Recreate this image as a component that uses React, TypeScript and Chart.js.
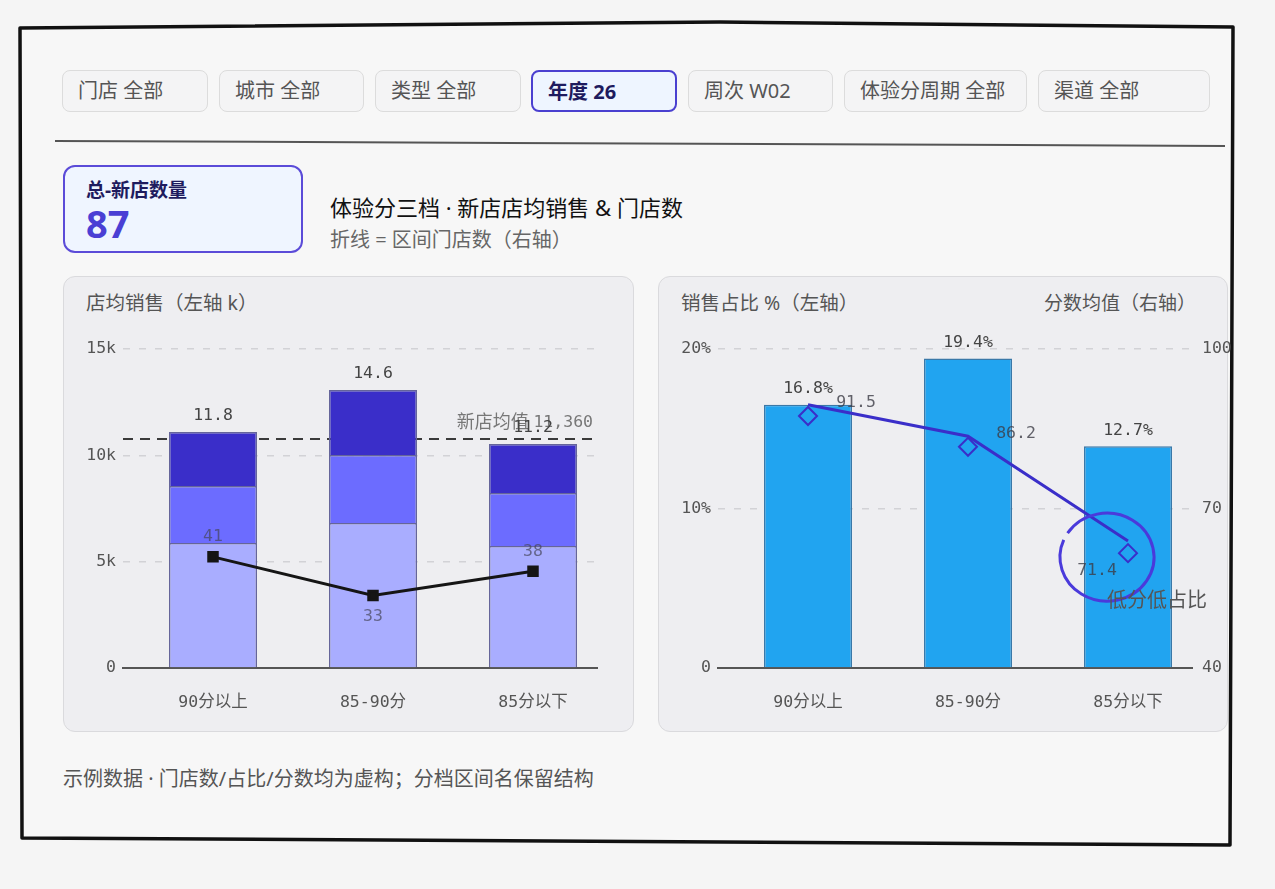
import React, { useEffect, useRef } from "react";
import { Chart, registerables } from "chart.js";

Chart.register(...registerables);

const filters = ["门店 全部", "城市 全部", "类型 全部", "年度 26", "周次 W02", "体验分周期 全部", "渠道 全部"];
const activeFilter = "年度 26";

const categories = ["90分以上", "85-90分", "85分以下"];
// stacked sales per store (three layers), in yuan
const salesBase = [5880, 6820, 5740];
const salesMid = [2680, 3190, 2490];
const salesTop = [2540, 3060, 2300];
const salesTotalLabels = ["11.8", "14.6", "11.2"];
const storeCounts = [41, 33, 38];
const avgSales = 10770;
const avgSalesName = "新店均值";
const avgSalesText = "11,360";

const salesShare = [16.5, 19.4, 13.9];
const salesShareLabels = ["16.8%", "19.4%", "12.7%"];
const scoreLine = [89.5, 83.6, 63.9];
const scoreMarks = [87.4, 81.6, 61.6];
const scoreLabels = ["91.5", "86.2", "71.4"];
const lowNote = "低分低占比";

const totalNewStores = 87;

const UI_FONT = '"Noto Sans", "Noto Sans CJK SC", sans-serif';
const MONO_FONT = '"DejaVu Sans Mono", "Noto Sans CJK SC", monospace';
const TICK_SIZE = 16.5;

const xy = (arr: number[]) => arr.map((v, i) => ({ x: i, y: v }));

// category positions on a linear index axis so bars sit like the original
const indexAxis = (afterFitHeight: number) => ({
  type: "linear" as const,
  min: -0.5625,
  max: 2.4,
  offset: false,
  stacked: true,
  grid: { display: false, drawTicks: false },
  border: { display: true, color: "#555", width: 2 },
  afterBuildTicks: (scale: any) => {
    scale.ticks = categories.map((_, i) => ({ value: i }));
  },
  afterFit: (scale: any) => {
    scale.height = afterFitHeight;
  },
  ticks: {
    padding: 25,
    color: "#555",
    font: { family: MONO_FONT, size: TICK_SIZE },
    callback: (v: any) => categories[v] ?? "",
  },
});

function SalesChart() {
  const ref = useRef<HTMLCanvasElement>(null);

  useEffect(() => {
    if (!ref.current) return;
    const ctx = ref.current.getContext("2d");
    if (!ctx) return;

    const labelsPlugin = {
      id: "salesLabels",
      beforeDatasetsDraw(chart: any) {
        const { ctx, chartArea } = chart;
        const y = chart.scales.y.getPixelForValue(avgSales);
        ctx.save();
        ctx.strokeStyle = "#3a3a3a";
        ctx.lineWidth = 2;
        ctx.setLineDash([10, 7]);
        ctx.beginPath();
        ctx.moveTo(chartArea.left, y);
        ctx.lineTo(chartArea.right, y);
        ctx.stroke();
        ctx.setLineDash([]);
        ctx.fillStyle = "#777";
        ctx.textAlign = "right";
        ctx.textBaseline = "middle";
        ctx.font = `${TICK_SIZE}px ${MONO_FONT}`;
        const right = chartArea.right - 4;
        ctx.fillText(avgSalesText, right, y - 16);
        const w = ctx.measureText(avgSalesText).width;
        ctx.font = `18px ${UI_FONT}`;
        ctx.fillText(avgSalesName + " ", right - w, y - 16);
        ctx.restore();
      },
      afterDatasetsDraw(chart: any) {
        const { ctx } = chart;
        ctx.save();
        ctx.font = `${TICK_SIZE}px ${MONO_FONT}`;
        ctx.textAlign = "center";
        ctx.textBaseline = "middle";
        const topMeta = chart.getDatasetMeta(3);
        topMeta.data.forEach((bar: any, i: number) => {
          ctx.fillStyle = "#444";
          ctx.fillText(salesTotalLabels[i], bar.x, bar.y - 16);
        });
        const lineMeta = chart.getDatasetMeta(0);
        const minCount = Math.min(...storeCounts);
        lineMeta.data.forEach((pt: any, i: number) => {
          const below = storeCounts[i] === minCount;
          ctx.fillStyle = "rgba(70,70,90,0.7)";
          ctx.fillText(String(storeCounts[i]), pt.x, below ? pt.y + 21 : pt.y - 20);
        });
        ctx.restore();
      },
    };

    const barStyle = { borderColor: "#65659a", borderWidth: 1.5, categoryPercentage: 1, barPercentage: 0.55, order: 1, yAxisID: "y" };

    const chart = new Chart(ctx, {
      type: "bar",
      data: {
        datasets: [
          {
            type: "line",
            label: "门店数",
            data: xy(storeCounts),
            yAxisID: "y1",
            borderColor: "#151515",
            borderWidth: 3,
            pointStyle: "rect",
            pointRadius: 6,
            pointBackgroundColor: "#151515",
            pointBorderColor: "#151515",
            order: 0,
          } as any,
          { label: "底层", data: xy(salesBase), backgroundColor: "#a9adff", ...barStyle },
          { label: "中层", data: xy(salesMid), backgroundColor: "#6c6cff", ...barStyle },
          { label: "顶层", data: xy(salesTop), backgroundColor: "#3a2ec9", ...barStyle },
        ],
      },
      options: {
        animation: false,
        responsive: false,
        maintainAspectRatio: false,
        layout: { padding: { top: 29, right: 37, left: 0, bottom: 0 } },
        plugins: { legend: { display: false }, tooltip: { enabled: false } },
        scales: {
          x: indexAxis(52),
          y: {
            stacked: true,
            min: 0,
            max: 15000,
            afterFit: (scale: any) => {
              scale.width = 60;
            },
            border: { display: false, dash: [7, 9] },
            grid: { color: "#d2d2d6", lineWidth: 1.5, drawTicks: false },
            ticks: {
              stepSize: 5000,
              padding: 7,
              color: "#555",
              font: { family: MONO_FONT, size: TICK_SIZE },
              callback: (v: any) => (v === 0 ? "0" : `${v / 1000}k`),
            },
          },
          y1: { display: false, min: 18, max: 84, position: "right" },
        },
      },
      plugins: [labelsPlugin],
    });

    return () => {
      chart.destroy();
    };
  }, []);

  return <canvas ref={ref} width={571} height={400} style={{ position: "absolute", left: 63, top: 320, width: 571, height: 400 }} />;
}

function ShareChart() {
  const ref = useRef<HTMLCanvasElement>(null);

  useEffect(() => {
    if (!ref.current) return;
    const ctx = ref.current.getContext("2d");
    if (!ctx) return;

    const notePlugin = {
      id: "shareLabels",
      afterDatasetsDraw(chart: any) {
        const { ctx, chartArea } = chart;
        ctx.save();
        ctx.font = `${TICK_SIZE}px ${MONO_FONT}`;
        ctx.textAlign = "center";
        ctx.textBaseline = "middle";
        ctx.fillStyle = "#444";
        chart.getDatasetMeta(2).data.forEach((bar: any, i: number) => {
          ctx.fillText(salesShareLabels[i], bar.x, bar.y - 16);
        });
        ctx.fillStyle = "rgba(60,60,70,0.8)";
        chart.getDatasetMeta(0).data.forEach((pt: any, i: number) => {
          let x = pt.x + 48;
          let y = pt.y - 2;
          if (x + 20 > chartArea.right) {
            x = pt.x - 31;
            y = pt.y + 30;
          }
          ctx.fillText(scoreLabels[i], x, y);
        });
        // highlight around the lowest tier
        const marks = chart.getDatasetMeta(1).data;
        const last = marks[marks.length - 1];
        const cx = last.x - 21;
        const cy = last.y + 4;
        ctx.strokeStyle = "#4a3adb";
        ctx.lineWidth = 3;
        ctx.beginPath();
        ctx.ellipse(cx, cy, 47, 44, 0, (213 * Math.PI) / 180, (203 * Math.PI) / 180 + Math.PI * 2);
        ctx.stroke();
        ctx.font = `20px ${UI_FONT}`;
        ctx.fillStyle = "#555";
        ctx.fillText(lowNote, last.x + 29, last.y + 48);
        ctx.restore();
      },
    };

    const chart = new Chart(ctx, {
      type: "bar",
      data: {
        datasets: [
          {
            type: "line",
            label: "分数均值",
            data: xy(scoreLine),
            yAxisID: "y1",
            borderColor: "#3a2ec9",
            borderWidth: 3,
            pointRadius: 0,
            order: 0,
          } as any,
          {
            type: "line",
            label: "分数标记",
            data: xy(scoreMarks),
            yAxisID: "y1",
            showLine: false,
            pointStyle: "rectRot",
            pointRadius: 9,
            pointBorderWidth: 2,
            pointBorderColor: "#3a2ec9",
            pointBackgroundColor: "rgba(0,0,0,0)",
            order: 0,
          } as any,
          {
            label: "销售占比",
            data: xy(salesShare),
            yAxisID: "y",
            backgroundColor: "#21a4f0",
            borderColor: "#3a78a8",
            borderWidth: 1.5,
            categoryPercentage: 1,
            barPercentage: 0.55,
            order: 1,
          },
        ],
      },
      options: {
        animation: false,
        responsive: false,
        maintainAspectRatio: false,
        layout: { padding: { top: 29, right: 0, left: 0, bottom: 0 } },
        plugins: { legend: { display: false }, tooltip: { enabled: false } },
        scales: {
          x: { ...indexAxis(52), stacked: false },
          y: {
            min: 0,
            max: 20,
            afterFit: (scale: any) => {
              scale.width = 60;
            },
            border: { display: false, dash: [7, 9] },
            grid: { color: "#d2d2d6", lineWidth: 1.5, drawTicks: false },
            ticks: {
              stepSize: 10,
              padding: 7,
              color: "#555",
              font: { family: MONO_FONT, size: TICK_SIZE },
              callback: (v: any) => (v === 0 ? "0" : `${v}%`),
            },
          },
          y1: {
            position: "right",
            min: 40,
            max: 100,
            afterFit: (scale: any) => {
              scale.width = 42;
            },
            border: { display: false },
            grid: { display: false, drawTicks: false },
            ticks: {
              stepSize: 30,
              padding: 10,
              color: "#555",
              font: { family: MONO_FONT, size: TICK_SIZE },
            },
          },
        },
      },
      plugins: [notePlugin],
    });

    return () => {
      chart.destroy();
    };
  }, []);

  return <canvas ref={ref} width={576} height={400} style={{ position: "absolute", left: 658, top: 320, width: 576, height: 400 }} />;
}

const panelStyle: React.CSSProperties = {
  position: "absolute",
  top: 276,
  height: 456,
  boxSizing: "border-box",
  background: "#eeeef1",
  border: "1.5px solid #dadadd",
  borderRadius: 12,
};

const pillSpans = [
  [62, 146],
  [219, 145],
  [375, 146],
  [531, 146],
  [688, 145],
  [844, 183],
  [1038, 172],
];

export default function App() {
  return (
    <div style={{ position: "absolute", left: 0, top: 0, width: 1275, height: 889, background: "#f5f5f5", fontFamily: UI_FONT, overflow: "hidden" }}>
      <svg width={1275} height={889} style={{ position: "absolute", left: 0, top: 0 }}>
        <path d="M20 28 L720 22 L1233 27 L1230 845 L22 838 Z" fill="#f7f7f7" stroke="#111" strokeWidth={3.5} strokeLinejoin="round" />
        <line x1={55} y1={141} x2={1225} y2={146} stroke="#555" strokeWidth={2} />
      </svg>

      {filters.map((f, i) => {
        const active = f === activeFilter;
        return (
          <div
            key={f}
            style={{
              position: "absolute",
              left: pillSpans[i][0],
              top: 70,
              width: pillSpans[i][1],
              height: 42,
              boxSizing: "border-box",
              borderRadius: 8,
              border: active ? "2px solid #4a40d0" : "1.5px solid #dcdcdc",
              background: active ? "#eef5ff" : "#f4f4f5",
              color: active ? "#1e1b5e" : "#555",
              fontWeight: active ? 700 : 400,
              fontSize: 20,
              lineHeight: "40px",
              paddingLeft: 15,
              whiteSpace: "nowrap",
            }}
          >
            {f}
          </div>
        );
      })}

      <div
        style={{
          position: "absolute",
          left: 63,
          top: 165,
          width: 240,
          height: 88,
          boxSizing: "border-box",
          border: "2px solid #5b4bd8",
          borderRadius: 12,
          background: "#eff5ff",
        }}
      >
        <div style={{ position: "absolute", left: 21, top: 10, fontSize: 19, fontWeight: 700, color: "#1e1b5e", lineHeight: "26px", whiteSpace: "nowrap" }}>总-新店数量</div>
        <div style={{ position: "absolute", left: 21, top: 31, fontSize: 38, fontWeight: 700, color: "#4a3fd4", lineHeight: "50px" }}>{totalNewStores}</div>
      </div>

      <div style={{ position: "absolute", left: 330, top: 192, fontSize: 22, color: "#111", lineHeight: "30px", whiteSpace: "nowrap" }}>
        体验分三档 · 新店店均销售 &amp; 门店数
      </div>
      <div style={{ position: "absolute", left: 330, top: 227, fontSize: 20, color: "#666", lineHeight: "26px", whiteSpace: "nowrap" }}>
        折线 = 区间门店数（右轴）
      </div>

      <div style={{ ...panelStyle, left: 63, width: 571 }} />
      <div style={{ ...panelStyle, left: 658, width: 570 }} />
      <div style={{ position: "absolute", left: 86, top: 289, fontSize: 19.5, color: "#555", lineHeight: "28px", whiteSpace: "nowrap" }}>店均销售（左轴 k）</div>
      <div style={{ position: "absolute", left: 681, top: 289, fontSize: 19.5, color: "#555", lineHeight: "28px", whiteSpace: "nowrap" }}>销售占比 %（左轴）</div>
      <div style={{ position: "absolute", right: 1275 - 1196, top: 289, fontSize: 19, color: "#555", lineHeight: "28px", whiteSpace: "nowrap" }}>分数均值（右轴）</div>

      <SalesChart />
      <ShareChart />

      <div style={{ position: "absolute", left: 63, top: 765, fontSize: 20, color: "#555", lineHeight: "28px", whiteSpace: "nowrap" }}>
        示例数据 · 门店数/占比/分数均为虚构；分档区间名保留结构
      </div>
    </div>
  );
}
